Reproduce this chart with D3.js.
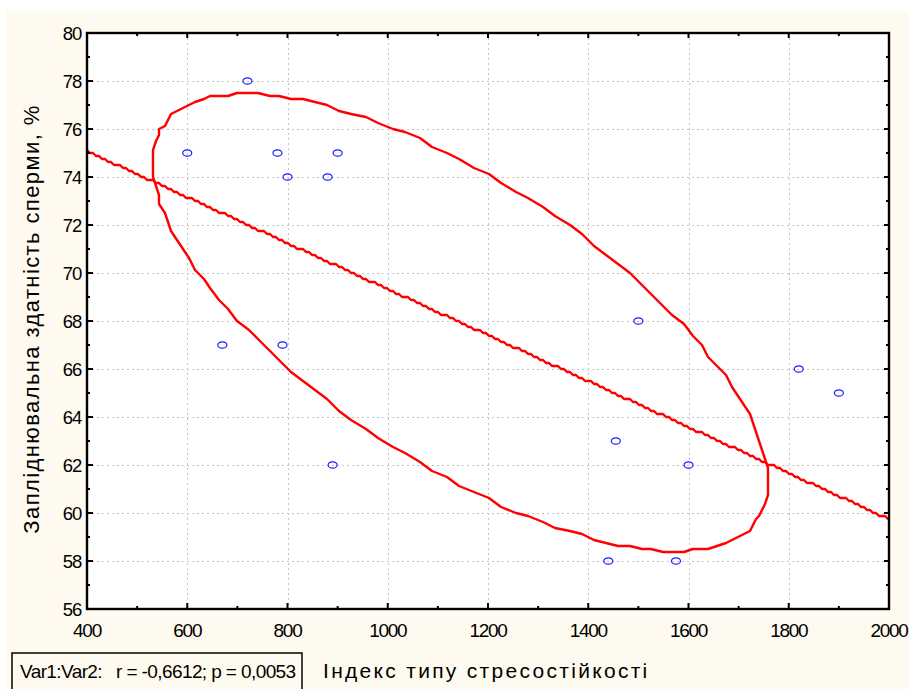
<!DOCTYPE html>
<html>
<head>
<meta charset="utf-8">
<script src="https://cdn.jsdelivr.net/npm/d3@7"></script>
<style>
  html, body { margin: 0; padding: 0; background: #ffffff; }
  svg { display: block; }
  text { font-family: "Liberation Sans", Arial, sans-serif; fill: #000; }
</style>
</head>
<body>
<svg id="chart" width="909" height="689"></svg>
<script>
// Stress-resistance index (Var1) vs. sperm fertilizing capacity, % (Var2)
const stressIndex = [720, 600, 780, 900, 800, 880, 1500, 670, 790, 1820, 1900, 1455, 1600, 890, 1440, 1575];
const fertility   = [78, 75, 75, 75, 74, 74, 68, 67, 67, 66, 65, 63, 62, 62, 58, 58];

const xTicks = [400, 600, 800, 1000, 1200, 1400, 1600, 1800, 2000];
const yTicks = [56, 58, 60, 62, 64, 66, 68, 70, 72, 74, 76, 78, 80];

// Ellipse spread (half-extent along x and y, in data units) and its tilt correlation
const ellipseHalfX = 614;
const ellipseHalfY = 9.52;
const ellipseRho = -0.70;

const xTitle = "Індекс типу стресостійкості";
const yTitle = "Запліднювальна здатність сперми, %";
const statText = "Var1:Var2:   r = -0,6612; p = 0,0053";

const svg = d3.select("#chart");
const W = 909, H = 689;
const L = 87, R = 889, T = 33, B = 609;

// cream page background
svg.append("rect").attr("x", 6).attr("y", 11).attr("width", W - 6).attr("height", H - 11)
  .attr("fill", "#fffaef");

const x = d3.scaleLinear().domain([400, 2000]).range([L, R]);
const y = d3.scaleLinear().domain([56, 80]).range([B, T]);

svg.append("rect").attr("x", L).attr("y", T).attr("width", R - L).attr("height", B - T)
  .attr("fill", "#ffffff");

// dotted grid
const grid = svg.append("g");
grid.selectAll("line.gx").data(xTicks.slice(1, -1)).join("line")
  .attr("x1", d => Math.round(x(d)) + 0.5).attr("x2", d => Math.round(x(d)) + 0.5)
  .attr("y1", T).attr("y2", B)
  .attr("stroke", "#c4c4c4").attr("stroke-width", 1).attr("stroke-dasharray", "2,3");
grid.selectAll("line.gy").data(yTicks.slice(1, -1)).join("line")
  .attr("y1", d => Math.round(y(d)) + 0.5).attr("y2", d => Math.round(y(d)) + 0.5)
  .attr("x1", L).attr("x2", R)
  .attr("stroke", "#c4c4c4").attr("stroke-width", 1).attr("stroke-dasharray", "2,3");

const plot = svg.append("g");
svg.append("clipPath").attr("id", "clip").append("rect")
  .attr("x", L).attr("y", T).attr("width", R - L).attr("height", B - T);
plot.attr("clip-path", "url(#clip)");

// coarse pixel snapping gives the lines their stepped look
const snap = v => Math.round(v / 3) * 3;

// least-squares regression line
const mx = d3.mean(stressIndex), my = d3.mean(fertility);
let sxy = 0, sxx = 0;
stressIndex.forEach((v, i) => { sxy += (v - mx) * (fertility[i] - my); sxx += (v - mx) * (v - mx); });
const slope = sxy / sxx;
const intercept = my - slope * mx;
const regPts = [];
for (let px = L; px <= R + 3; px += 3) {
  const xv = x.invert(px);
  regPts.push([px, snap(y(intercept + slope * xv))]);
}
plot.append("path")
  .attr("d", d3.line()(regPts))
  .attr("fill", "none").attr("stroke", "#ff0000").attr("stroke-width", 2.4)
  .attr("stroke-linejoin", "round");

// prediction ellipse around the means
const ellPts = [];
const k = Math.sqrt(1 - ellipseRho * ellipseRho);
for (let i = 0; i <= 140; i++) {
  const t = (i / 140) * 2 * Math.PI;
  const xv = mx + ellipseHalfX * Math.cos(t);
  const yv = my + ellipseHalfY * (ellipseRho * Math.cos(t) + k * Math.sin(t));
  const p = [snap(x(xv)), snap(y(yv))];
  const last = ellPts[ellPts.length - 1];
  if (!last || last[0] !== p[0] || last[1] !== p[1]) ellPts.push(p);
}
plot.append("path")
  .attr("d", d3.line()(ellPts) + "Z")
  .attr("fill", "none").attr("stroke", "#ff0000").attr("stroke-width", 2.4)
  .attr("stroke-linejoin", "round");

// observations
plot.selectAll("ellipse.pt").data(stressIndex).join("ellipse")
  .attr("cx", d => x(d)).attr("cy", (d, i) => y(fertility[i]))
  .attr("rx", 4.5).attr("ry", 3.2)
  .attr("fill", "none").attr("stroke", "#1a1aff").attr("stroke-width", 1.2);

// frame and inward ticks
const frame = svg.append("g");
const minorX = d3.range(500, 2000, 200);
const minorY = d3.range(57, 80, 2);
const tickSeg = (x1, y1, x2, y2, w) => frame.append("line")
  .attr("x1", x1).attr("y1", y1).attr("x2", x2).attr("y2", y2)
  .attr("stroke", "#000").attr("stroke-width", w);
xTicks.forEach(d => { const px = x(d); tickSeg(px, B, px, B - 6, 2); tickSeg(px, T, px, T + 5, 2); });
minorX.forEach(d => { const px = x(d); tickSeg(px, B, px, B - 3, 2); tickSeg(px, T, px, T + 3, 2); });
yTicks.forEach(d => { const py = y(d); tickSeg(L, py, L + 6, py, 2); tickSeg(R, py, R - 5, py, 2); });
minorY.forEach(d => { const py = y(d); tickSeg(L, py, L + 3, py, 2); tickSeg(R, py, R - 3, py, 2); });
frame.append("rect").attr("x", L).attr("y", T).attr("width", R - L).attr("height", B - T)
  .attr("fill", "none").attr("stroke", "#000").attr("stroke-width", 2.4);

// tick labels
svg.append("g").selectAll("text").data(xTicks).join("text")
  .attr("x", d => x(d)).attr("y", 637)
  .attr("text-anchor", "middle").attr("font-size", 19).attr("letter-spacing", "-1.3px")
  .text(d => d);
svg.append("g").selectAll("text").data(yTicks).join("text")
  .attr("x", 81).attr("y", d => y(d) + 6.5)
  .attr("text-anchor", "end").attr("font-size", 18.5).attr("letter-spacing", "-1.2px")
  .text(d => d);

// axis titles
svg.append("text")
  .attr("x", 323).attr("y", 678)
  .attr("font-size", 21).attr("letter-spacing", "2.3px")
  .text(xTitle);
svg.append("text")
  .attr("transform", "translate(39,319) rotate(-90)")
  .attr("text-anchor", "middle")
  .attr("font-size", 22).attr("letter-spacing", "1.4px")
  .text(yTitle);

// correlation summary box
svg.append("rect").attr("x", 12).attr("y", 653).attr("width", 290).attr("height", 40)
  .attr("fill", "#fffaef").attr("stroke", "#000").attr("stroke-width", 1.5);
svg.append("text")
  .attr("x", 20).attr("y", 678)
  .attr("font-size", 19).attr("letter-spacing", "-0.6px")
  .attr("xml:space", "preserve")
  .style("white-space", "pre")
  .text(statText);
</script>
</body>
</html>
